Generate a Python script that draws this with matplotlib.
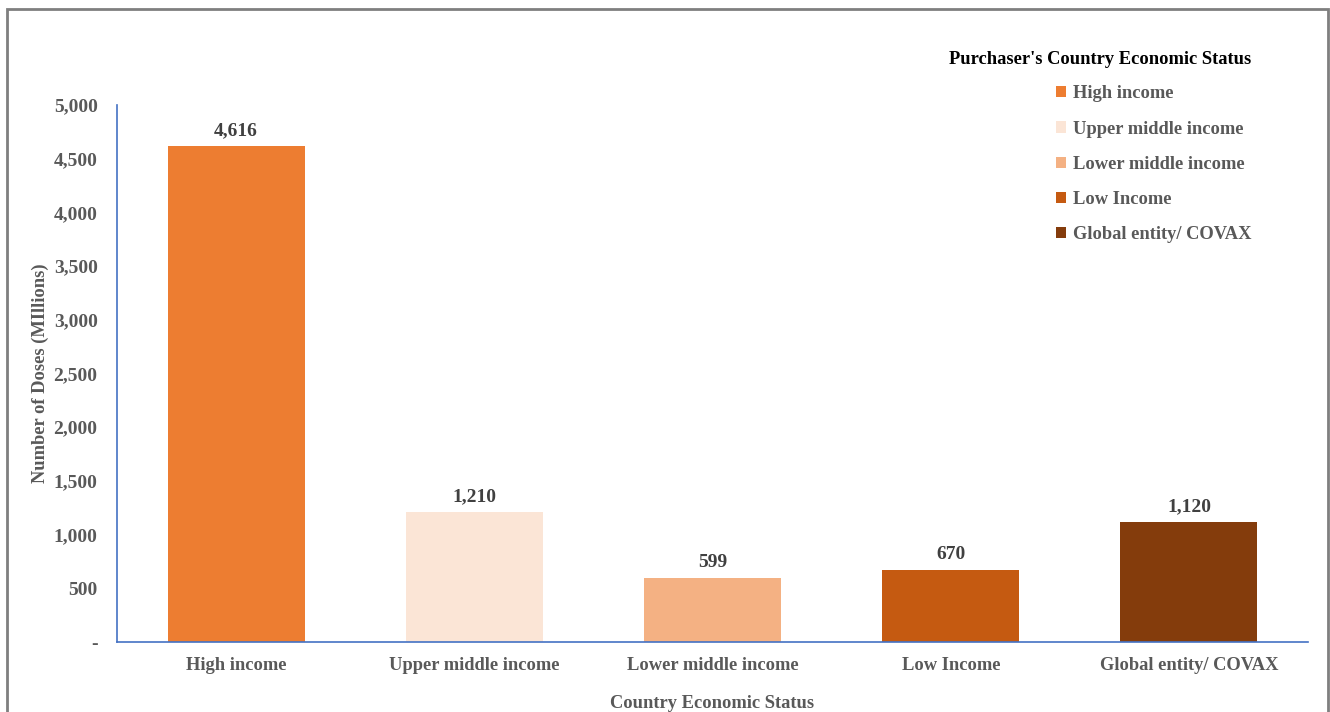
import matplotlib
import matplotlib.pyplot as plt
from matplotlib.patches import Patch, Rectangle

matplotlib.use("Agg")

categories = ["High income", "Upper middle income", "Lower middle income", "Low Income", "Global entity/ COVAX"]
doses = [4616, 1210, 599, 670, 1120]
colors = ["#ED7D31", "#FBE5D6", "#F4B183", "#C55A11", "#843C0C"]
yticks = [0, 500, 1000, 1500, 2000, 2500, 3000, 3500, 4000, 4500, 5000]

GRAY = "#595959"
BLUE = "#4472C4"
FS = 13.3

plt.rcParams["font.family"] = ["Liberation Serif", "DejaVu Serif"]
plt.rcParams["font.weight"] = "bold"

fig = plt.figure(figsize=(13.3, 7.12), dpi=100)
ax = fig.add_axes([0.088, 0.0983, 0.8955, 0.7542])

x = range(len(categories))
bars = ax.bar(x, doses, width=0.575, color=colors)
ax.bar_label(bars, labels=[f"{v:,}" for v in doses], padding=5,
             fontsize=14, fontweight="bold", color="#404040")

ax.set_xlim(-0.5, len(categories) - 0.5)
ax.set_ylim(0, 5000)
ax.set_xticks(list(x))
ax.set_xticklabels(categories, fontsize=FS, fontweight="bold", color=GRAY)
ax.set_yticks(yticks)
ax.set_yticklabels(["-" if v == 0 else f"{v:,}" for v in yticks],
                   fontsize=14, fontweight="bold", color=GRAY)
ax.tick_params(length=0)
ax.tick_params(axis="y", pad=14)
ax.tick_params(axis="x", pad=11)

for position in ("right", "top"):
    ax.spines[position].set_visible(False)
for position in ("left", "bottom"):
    ax.spines[position].set_color(BLUE)
    ax.spines[position].set_linewidth(1.2)

ax.set_ylabel("Number of Doses (MIllions)", fontsize=FS, fontweight="bold", color=GRAY, labelpad=3)
ax.set_xlabel("Country Economic Status", fontsize=FS, fontweight="bold", color=GRAY, labelpad=15)

handles = [Patch(facecolor=c, edgecolor="none") for c in colors]
leg = fig.legend(handles, categories, loc="upper left",
                 bbox_to_anchor=(1047 / 1330, 1 - 76 / 712), bbox_transform=fig.transFigure,
                 frameon=False, handlelength=0.55, handleheight=0.55, handletextpad=0.35,
                 labelspacing=0.99, borderpad=0, prop={"size": FS, "weight": "bold"})
for t in leg.get_texts():
    t.set_color(GRAY)
fig.text(1100 / 1330, 1 - 60 / 712, "Purchaser's Country Economic Status",
         ha="center", va="center", fontsize=FS, fontweight="bold", color="black")

fig.patches.append(Rectangle((7 / 1330, -0.05), 1321 / 1330, 1.05 - 9 / 712,
                             transform=fig.transFigure, fill=False,
                             edgecolor="#7F7F7F", linewidth=2))

fig.savefig("out.png", dpi=100)
plt.close(fig)
